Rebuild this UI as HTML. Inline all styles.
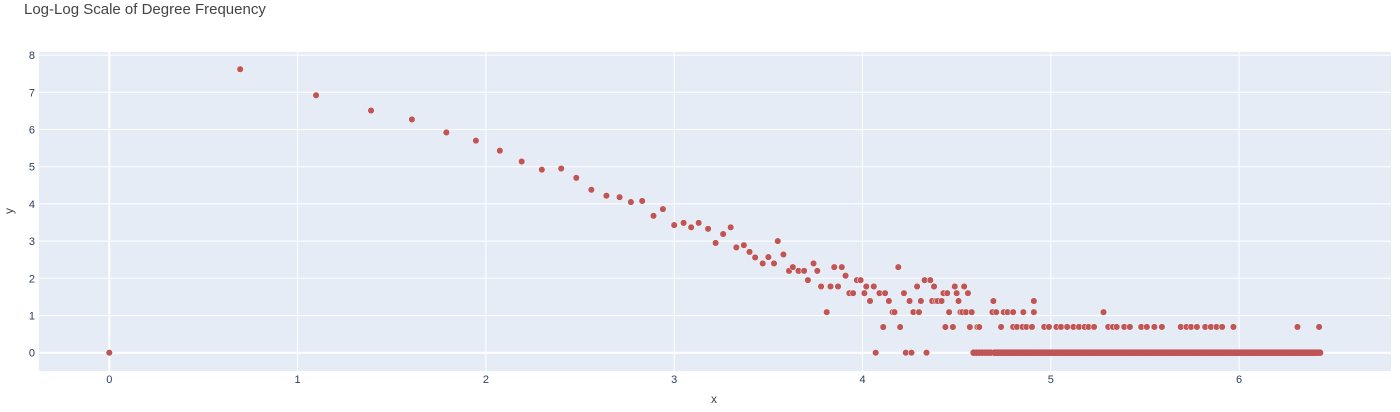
<!DOCTYPE html>
<html><head><meta charset="utf-8"><style>
body{margin:0;background:#fff;font-family:"Liberation Sans",sans-serif}
svg text{font-family:"Liberation Sans",sans-serif;fill:#2a3f5f}
</style></head><body>
<svg id="chart" width="1400" height="407" viewBox="0 0 1400 407" xmlns="http://www.w3.org/2000/svg">
<text x="24" y="14" font-size="15" style="fill:#444">Log-Log Scale of Degree Frequency</text>
<rect x="39" y="52" width="1352" height="319" fill="#E5ECF6"/>
<g id="grid"></g>
<g id="points"></g>
<text x="714" y="403" font-size="12" text-anchor="middle" style="fill:#444">x</text>
<text x="13" y="211" font-size="12" text-anchor="middle" transform="rotate(-90 13 211)" style="fill:#444">y</text>
</svg>
<script>
const xTicks=[0,1,2,3,4,5,6];
const yTicks=[0,1,2,3,4,5,6,7,8];
const headX=[0,0.695,1.098,1.39,1.607,1.79,1.947,2.074,2.19,2.297,2.40,2.48,2.56,2.64,2.71,2.77,2.83,2.89,2.94,3.00,3.05,3.09,3.13,3.18,3.22,3.26,3.30,3.33,3.37,3.40,3.43,3.47,3.50,3.53,3.55,3.58,3.61,3.63,3.66,3.69,3.71,3.74,3.76,3.78,3.81,3.83,3.85,3.87,3.89,3.91,3.93,3.95,3.97,3.99,4.01,4.02,4.04,4.06,4.07,4.09,4.11,4.12,4.14,4.16,4.17,4.19,4.20,4.22,4.23,4.25,4.26,4.27,4.29,4.30,4.31,4.33,4.34,4.36,4.37,4.38,4.39,4.40,4.42,4.43,4.44,4.45,4.46,4.48,4.49,4.50,4.51,4.52,4.53,4.54,4.55,4.56,4.57,4.58,4.61,4.62,4.69,4.695,4.71,4.91,4.75,4.77,4.80,4.854,4.91,5.28];
const headY=[0,7.62,6.92,6.51,6.27,5.92,5.70,5.43,5.14,4.92,4.95,4.70,4.38,4.22,4.18,4.05,4.08,3.68,3.86,3.43,3.49,3.37,3.49,3.33,2.95,3.19,3.37,2.83,2.89,2.71,2.56,2.40,2.57,2.40,3.0,2.64,2.20,2.30,2.20,2.20,1.95,2.40,2.20,1.78,1.09,1.78,2.30,1.78,2.30,2.07,1.60,1.60,1.95,1.95,1.60,1.78,1.39,1.78,0,1.60,0.69,1.60,1.39,1.09,1.09,2.30,0.69,1.60,0,1.39,0,1.09,1.78,1.09,1.39,1.95,0,1.95,1.39,1.78,1.39,1.39,1.39,1.60,0.69,1.60,1.09,0.69,1.78,1.60,1.39,1.09,1.09,1.78,1.09,1.60,0.69,1.09,0.69,0.69,1.09,1.39,1.09,1.39,1.09,1.09,1.09,1.09,1.09,1.09];
const pairX=[4.736,4.80,4.82,4.85,4.87,4.90,4.965,4.99,5.03,5.054,5.087,5.12,5.15,5.18,5.20,5.23,5.305,5.33,5.35,5.39,5.42,5.48,5.51,5.55,5.59,5.69,5.72,5.745,5.776,5.82,5.85,5.88,5.91,5.97,6.31,6.425];
const singleX=[4.59,4.605,4.62,4.635,4.65,4.665,4.68,4.70,4.715,4.73,4.745,4.76,4.775,4.79,4.805,4.82,4.835,4.85,4.865,4.88,4.895,4.91,4.925,4.94,4.955,4.97,4.985,5.0,5.015,5.03,5.045,5.06,5.075,5.09,5.105,5.12,5.135,5.15,5.165,5.18,5.195,5.21,5.225,5.24,5.255,5.27,5.285,5.30,5.315,5.33,5.345,5.36,5.375,5.39,5.405,5.42,5.435,5.45,5.465,5.48,5.495,5.51,5.525,5.54,5.555,5.57,5.585,5.60,5.615,5.63,5.645,5.66,5.675,5.69,5.705,5.72,5.735,5.75,5.765,5.78,5.795,5.81,5.825,5.84,5.855,5.87,5.885,5.90,5.915,5.93,5.945,5.96,5.975,5.99,6.005,6.02,6.035,6.05,6.065,6.08,6.095,6.11,6.125,6.14,6.155,6.17,6.185,6.20,6.215,6.23,6.245,6.26,6.275,6.29,6.305,6.32,6.335,6.35,6.365,6.38,6.395,6.41,6.43];
const singleXb=[4.7075,4.7225,4.7375,4.7525,4.7675,4.7825,4.7975,4.8125,4.8275,4.8425,4.8575,4.8725,4.8875,4.9025,4.9175,4.9325,4.9475,4.9625,4.9775,4.9925,5.0075,5.0225,5.0375,5.0525,5.0675,5.0825,5.0975,5.1125,5.1275,5.1425,5.1575,5.1725,5.1875,5.2025,5.2175,5.2325,5.2475,5.2625,5.2775,5.2925,5.3075,5.3225,5.3375,5.3525,5.3675,5.3825,5.3975,5.4125,5.4275,5.4425,5.4575,5.4725,5.4875,5.5025,5.5175,5.5325,5.5475,5.5625,5.5775,5.5925,5.6075,5.6225,5.6375,5.6525,5.6675,5.6825,5.6975,5.7125,5.7275,5.7425,5.7575,5.7725,5.7875,5.8025,5.8175,5.8325,5.8475,5.8625,5.8775,5.8925,5.9075,5.9225,5.9375,5.9525,5.9675,5.9825,5.9975,6.0125,6.0275,6.0425,6.0575,6.0725,6.0875,6.1025,6.1175,6.1325,6.1475,6.1625,6.1775,6.1925,6.2075,6.2225,6.2375,6.2525,6.2675,6.2825,6.2975,6.3125,6.3275,6.3425,6.3575,6.3725,6.3875,6.4025,6.42];
const pairY=0.693, singleY=0;

const X0=109.3,XS=188.3,Y0=352.7,YS=37.2;
const sx=v=>X0+v*XS, sy=v=>Y0-v*YS;
const NS="http://www.w3.org/2000/svg";
const grid=document.getElementById('grid'), pts=document.getElementById('points'), svg=document.getElementById('chart');
function mk(tag,attrs,parent){const e=document.createElementNS(NS,tag);for(const k in attrs)e.setAttribute(k,attrs[k]);parent.appendChild(e);return e;}
xTicks.forEach(t=>{
  const l=mk('line',{x1:sx(t),x2:sx(t),y1:52,y2:371,stroke:'#fff','stroke-width':t===0?2:1},grid);
  
  
  const tx=mk('text',{x:sx(t),y:383,'font-size':11,'text-anchor':'middle'},svg);
  tx.textContent=t;
  
  
});
yTicks.forEach(t=>{
  const l=mk('line',{x1:39,x2:1391,y1:sy(t),y2:sy(t),stroke:'#fff','stroke-width':t===0?2:1},grid);
  
  
  const tx=mk('text',{x:35,y:sy(t)+4,'font-size':11,'text-anchor':'end'},svg);
  tx.textContent=t;
  
  
});
function dot(x,y,outline){
  const c=mk('circle',{cx:sx(x),cy:sy(y),r:3.3,fill:'#c05555',stroke:outline?'#fff':'none','stroke-width':0.5},pts);
  
  
}
singleX.forEach(x=>dot(x,singleY,false));
singleXb.forEach(x=>dot(x,singleY,false));
pairX.forEach(x=>dot(x,pairY,true));
headX.forEach((x,i)=>dot(x,headY[i],true));
</script>
</body></html>
